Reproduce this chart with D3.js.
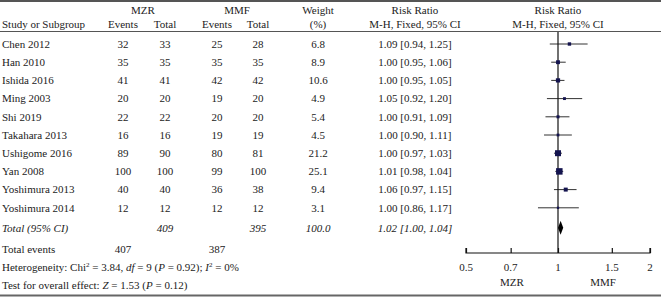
<!DOCTYPE html>
<html>
<head>
<meta charset="utf-8">
<script src="https://cdn.jsdelivr.net/npm/d3@7"></script>
<style>
  body { margin: 0; background: #fff; }
  svg { display: block; font-family: "Liberation Serif", "DejaVu Serif", serif; }
</style>
</head>
<body>
<svg></svg>
<script>
const svg = d3.select('svg');
svg.attr('width', 661).attr('height', 297);
const width = +svg.attr('width');
const height = +svg.attr('height');

// data
const studies = ['Chen 2012', 'Han 2010', 'Ishida 2016', 'Ming 2003', 'Shi 2019', 'Takahara 2013',
                 'Ushigome 2016', 'Yan 2008', 'Yoshimura 2013', 'Yoshimura 2014'];
const mzrEvents = [32, 35, 41, 20, 22, 16, 89, 100, 40, 12];
const mzrTotal = [33, 35, 41, 20, 22, 16, 90, 100, 40, 12];
const mmfEvents = [25, 35, 42, 19, 20, 19, 80, 99, 36, 12];
const mmfTotal = [28, 35, 42, 20, 20, 19, 81, 100, 38, 12];
const weights = [6.8, 8.9, 10.6, 4.9, 5.4, 4.5, 21.2, 25.1, 9.4, 3.1];
const rr = [1.09, 1.00, 1.00, 1.05, 1.00, 1.00, 1.00, 1.01, 1.06, 1.00];
const lower = [0.94, 0.95, 0.95, 0.92, 0.91, 0.90, 0.97, 0.98, 0.97, 0.86];
const upper = [1.25, 1.06, 1.05, 1.20, 1.09, 1.11, 1.03, 1.04, 1.15, 1.17];
const pooled = {rr: 1.02, lo: 1.00, hi: 1.04, mzrTotal: 409, mmfTotal: 395, weight: '100.0'};
const totalEvents = [407, 387];
const axisTicks = [0.5, 0.7, 1, 1.5, 2];

const textColor = '#222';
const fs = 11;

const data = studies.map((s, i) => ({
    name: s, e1: mzrEvents[i], t1: mzrTotal[i], e2: mmfEvents[i], t2: mmfTotal[i],
    w: weights[i], rr: rr[i], lo: lower[i], hi: upper[i]
}));

// row positions
const rowY = d3.scaleLinear().domain([0, 1]).range([44, 62.2]);
const totalRowY = rowY(10.1);

// column centres
const col = {name: 2, e1: 123, t1: 165, e2: 217, t2: 258, w: 318, ci: 415};

// forest scale
const xScale = d3.scaleLog().domain([0.5, 2]).range([466, 650]);
const sizeScale = d3.scaleSqrt().domain([0, d3.max(weights)]).range([0, 6.5]);

const txt = (x, y, s, anchor = 'middle', style = 'normal') =>
    svg.append('text').attr('x', x).attr('y', y).attr('dy', '0.35em')
       .attr('text-anchor', anchor).attr('font-size', fs)
       .attr('font-style', style).attr('fill', textColor).text(s);

// rules
svg.append('line').attr('x1', 0).attr('x2', width).attr('y1', 1).attr('y2', 1)
   .attr('stroke', '#555').attr('stroke-width', 2);
svg.append('line').attr('x1', 0).attr('x2', width).attr('y1', 31.5).attr('y2', 31.5)
   .attr('stroke', '#555').attr('stroke-width', 1);
svg.append('line').attr('x1', 0).attr('x2', width).attr('y1', 295.5).attr('y2', 295.5)
   .attr('stroke', '#666').attr('stroke-width', 2);

// headers
txt(143, 10, 'MZR');
txt(237, 10, 'MMF');
txt(col.w, 10, 'Weight');
txt(col.ci, 10, 'Risk Ratio');
txt(558, 10, 'Risk Ratio');
txt(col.name, 24, 'Study or Subgroup', 'start');
txt(col.e1, 24, 'Events');
txt(col.t1, 24, 'Total');
txt(col.e2, 24, 'Events');
txt(col.t2, 24, 'Total');
txt(col.w, 24, '(%)');
txt(col.ci, 24, 'M-H, Fixed, 95% CI');
txt(558, 24, 'M-H, Fixed, 95% CI');

// study rows
data.forEach((d, i) => {
    const y = rowY(i);
    txt(col.name, y, d.name, 'start');
    txt(col.e1, y, d.e1);
    txt(col.t1, y, d.t1);
    txt(col.e2, y, d.e2);
    txt(col.t2, y, d.t2);
    txt(col.w, y, d.w.toFixed(1));
    txt(col.ci, y, `${d.rr.toFixed(2)} [${d.lo.toFixed(2)}, ${d.hi.toFixed(2)}]`);
});

// total rows
txt(col.name, totalRowY, 'Total (95% CI)', 'start', 'italic');
txt(col.t1, totalRowY, pooled.mzrTotal, 'middle', 'italic');
txt(col.t2, totalRowY, pooled.mmfTotal, 'middle', 'italic');
txt(col.w, totalRowY, pooled.weight, 'middle', 'italic');
txt(col.ci, totalRowY, `${pooled.rr.toFixed(2)} [${pooled.lo.toFixed(2)}, ${pooled.hi.toFixed(2)}]`, 'middle', 'italic');

txt(col.name, 249, 'Total events', 'start');
txt(col.e1, 249, totalEvents[0]);
txt(col.e2, 249, totalEvents[1]);

const het = svg.append('text').attr('x', col.name).attr('y', 267).attr('dy', '0.35em')
   .attr('font-size', fs).attr('fill', textColor);
het.append('tspan').text('Heterogeneity: Chi');
het.append('tspan').attr('font-size', 7).attr('dy', -4).text('2');
het.append('tspan').attr('dy', 4).text(' = 3.84, ');
het.append('tspan').attr('font-style', 'italic').text('df');
het.append('tspan').text(' = 9 (');
het.append('tspan').attr('font-style', 'italic').text('P');
het.append('tspan').text(' = 0.92); ');
het.append('tspan').attr('font-style', 'italic').text('I');
het.append('tspan').attr('font-size', 7).attr('dy', -4).text('2');
het.append('tspan').attr('dy', 4).text(' = 0%');

const ovr = svg.append('text').attr('x', col.name).attr('y', 285).attr('dy', '0.35em')
   .attr('font-size', fs).attr('fill', textColor);
ovr.append('tspan').text('Test for overall effect: ');
ovr.append('tspan').attr('font-style', 'italic').text('Z');
ovr.append('tspan').text(' = 1.53 (');
ovr.append('tspan').attr('font-style', 'italic').text('P');
ovr.append('tspan').text(' = 0.12)');

// forest plot
const axisY = 253;
const g = svg.append('g');

// CI lines
g.selectAll('line.ci').data(data).enter().append('line')
   .attr('class', 'ci')
   .attr('x1', d => xScale(d.lo)).attr('x2', d => xScale(d.hi))
   .attr('y1', (d, i) => rowY(i)).attr('y2', (d, i) => rowY(i))
   .attr('stroke', '#333').attr('stroke-width', 1);

// null line
g.append('line').attr('x1', xScale(1)).attr('x2', xScale(1))
   .attr('y1', 32).attr('y2', axisY)
   .attr('stroke', '#111').attr('stroke-width', 1.2);

// squares
g.selectAll('rect').data(data).enter().append('rect')
   .attr('x', d => xScale(d.rr) - sizeScale(d.w) / 2)
   .attr('y', (d, i) => rowY(i) - sizeScale(d.w) / 2)
   .attr('width', d => sizeScale(d.w))
   .attr('height', d => sizeScale(d.w))
   .attr('fill', '#14144f');

// diamond
const dh = 7;
g.append('path')
   .attr('d', `M${xScale(pooled.lo)},${totalRowY} L${xScale(pooled.rr)},${totalRowY - dh} ` +
              `L${xScale(pooled.hi)},${totalRowY} L${xScale(pooled.rr)},${totalRowY + dh} Z`)
   .attr('fill', '#000');

// axis
const xAxis = d3.axisTop(xScale).tickValues(axisTicks).tickSize(5).tickFormat(d3.format('~g'));
const ax = g.append('g').attr('transform', `translate(0,${axisY})`).call(xAxis);
ax.select('.domain').attr('d', `M${xScale(0.5)},-5V0H${xScale(2)}V-5`).attr('stroke', '#111').attr('stroke-width', 1.2);
ax.selectAll('.tick line').attr('stroke', '#111').attr('stroke-width', 1.2);
ax.selectAll('.tick text').remove();
axisTicks.forEach(t => txt(xScale(t), 267, d3.format('~g')(t)));

txt(512, 282, 'MZR');
txt(603, 282, 'MMF');
</script>
</body>
</html>
